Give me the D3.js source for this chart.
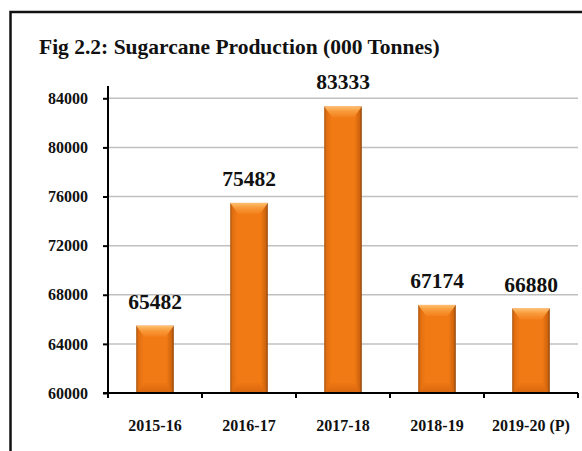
<!DOCTYPE html>
<html>
<head>
<meta charset="utf-8">
<script src="https://cdn.jsdelivr.net/npm/d3@7"></script>
<style>
  body { margin: 0; background: #fff; }
  svg { display: block; font-family: "Liberation Serif", "Times New Roman", serif; font-weight: bold; }
</style>
</head>
<body>
<svg id="contenedor"></svg>
<script>
// datos del grafico
let anios = ["2015-16", "2016-17", "2017-18", "2018-19", "2019-20 (P)"];
let produccion = [65482, 75482, 83333, 67174, 66880];
let ticksY = [60000, 64000, 68000, 72000, 76000, 80000, 84000];
let titulo = "Fig 2.2: Sugarcane Production (000 Tonnes)";

let datos = anios.map((a, i) => ({ anio: a, valor: produccion[i] }));

// configuracion del area de dibujo
let width = 582, height = 451;
let margin = { top: 86, bottom: 58, left: 108, right: 4 };
let bodyWidth = width - margin.left - margin.right;
let bodyHeight = height - margin.top - margin.bottom;

let svg = d3.select("#contenedor").attr("width", width).attr("height", height);

// gradientes de las barras
let defs = svg.append("defs");
let gCuerpo = defs.append("linearGradient").attr("id", "cuerpo").attr("x1", 0).attr("x2", 1).attr("y1", 0).attr("y2", 0);
gCuerpo.append("stop").attr("offset", "0%").attr("stop-color", "#a9520c");
gCuerpo.append("stop").attr("offset", "6%").attr("stop-color", "#e06e10");
gCuerpo.append("stop").attr("offset", "20%").attr("stop-color", "#f27a14");
gCuerpo.append("stop").attr("offset", "80%").attr("stop-color", "#f27a14");
gCuerpo.append("stop").attr("offset", "94%").attr("stop-color", "#d0640e");
gCuerpo.append("stop").attr("offset", "100%").attr("stop-color", "#8e440a");

let gTop = defs.append("linearGradient").attr("id", "bisel_top").attr("x1", 0).attr("x2", 0).attr("y1", 0).attr("y2", 1);
gTop.append("stop").attr("offset", "0%").attr("stop-color", "#ffc070");
gTop.append("stop").attr("offset", "45%").attr("stop-color", "#f99a3a");
gTop.append("stop").attr("offset", "100%").attr("stop-color", "#f3801c");

let gBot = defs.append("linearGradient").attr("id", "bisel_bot").attr("x1", 0).attr("x2", 0).attr("y1", 0).attr("y2", 1);
gBot.append("stop").attr("offset", "0%").attr("stop-color", "#ee7614");
gBot.append("stop").attr("offset", "100%").attr("stop-color", "#d9660e");

// marco
svg.append("rect")
  .attr("x", 10.5).attr("y", 12)
  .attr("width", 700).attr("height", 600)
  .attr("fill", "none").attr("stroke", "#111").attr("stroke-width", 2.5);

// titulo
svg.append("text")
  .attr("x", 39).attr("y", 54)
  .attr("font-size", "21.5px")
  .attr("fill", "#111")
  .text(titulo);

// escalas
let xScale = d3.scaleBand().domain(anios).range([0, bodyWidth]).paddingInner(0.6).paddingOuter(0.3);
let yScale = d3.scaleLinear().domain([60000, 85000]).range([bodyHeight, 0]);

let body = svg.append("g").attr("transform", `translate(${margin.left}, ${margin.top})`);

// lineas de cuadricula
body.selectAll(".grid")
  .data(ticksY.slice(1))
  .enter()
  .append("line")
  .attr("x1", 0).attr("x2", bodyWidth)
  .attr("y1", d => yScale(d)).attr("y2", d => yScale(d))
  .attr("stroke", "#c0c0c0").attr("stroke-width", 1.5);

// barras
let bv = 8, bTop = 11, bBot = 10;
let barras = body.selectAll(".bar").data(datos).enter().append("g").attr("class", "bar");

barras.append("rect")
  .attr("x", d => xScale(d.anio))
  .attr("y", d => yScale(d.valor))
  .attr("width", xScale.bandwidth())
  .attr("height", d => bodyHeight - yScale(d.valor))
  .attr("fill", "url(#cuerpo)");

barras.append("polygon")
  .attr("points", d => {
    let x = xScale(d.anio), y = yScale(d.valor), w = xScale.bandwidth();
    return [[x, y], [x + w, y], [x + w - bv, y + bTop], [x + bv, y + bTop]].join(" ");
  })
  .attr("fill", "url(#bisel_top)");

barras.append("polygon")
  .attr("points", d => {
    let x = xScale(d.anio), y = bodyHeight, w = xScale.bandwidth();
    return [[x + 1, y], [x + w - 1, y], [x + w - bv, y - bBot], [x + bv, y - bBot]].join(" ");
  })
  .attr("fill", "url(#bisel_bot)");

// etiquetas de valores
body.selectAll(".etiqueta")
  .data(datos)
  .enter()
  .append("text")
  .attr("x", d => xScale(d.anio) + xScale.bandwidth() / 2)
  .attr("y", d => yScale(d.valor) - 17)
  .attr("text-anchor", "middle")
  .attr("font-size", "21.5px")
  .attr("fill", "#111")
  .text(d => d.valor);

// ejes
let axisY = d3.axisLeft(yScale).tickValues(ticksY).tickSize(5).tickPadding(15).tickFormat(d => d);
let gy = body.append("g").call(axisY);
gy.attr("font-family", null);
gy.select(".domain").attr("stroke", "#000").attr("stroke-width", 2).attr("d", `M0,0V${bodyHeight}`);
gy.selectAll(".tick line").attr("stroke", "#000").attr("stroke-width", 2);
gy.selectAll("text").attr("font-size", "16px").attr("fill", "#111");

let gx = body.append("g").attr("transform", `translate(0, ${bodyHeight})`);
gx.append("line").attr("x1", -5).attr("x2", bodyWidth).attr("stroke", "#000").attr("stroke-width", 2);
gx.selectAll(".tick")
  .data(d3.range(anios.length + 1))
  .enter()
  .append("line")
  .attr("x1", i => xScale.step() * i).attr("x2", i => xScale.step() * i)
  .attr("y1", 0).attr("y2", 5)
  .attr("stroke", "#000").attr("stroke-width", 2);
gx.selectAll(".xlabel")
  .data(anios)
  .enter()
  .append("text")
  .attr("x", d => xScale(d) + xScale.bandwidth() / 2)
  .attr("y", 38)
  .attr("text-anchor", "middle")
  .attr("font-size", "16px")
  .attr("fill", "#111")
  .text(d => d);
</script>
</body>
</html>
